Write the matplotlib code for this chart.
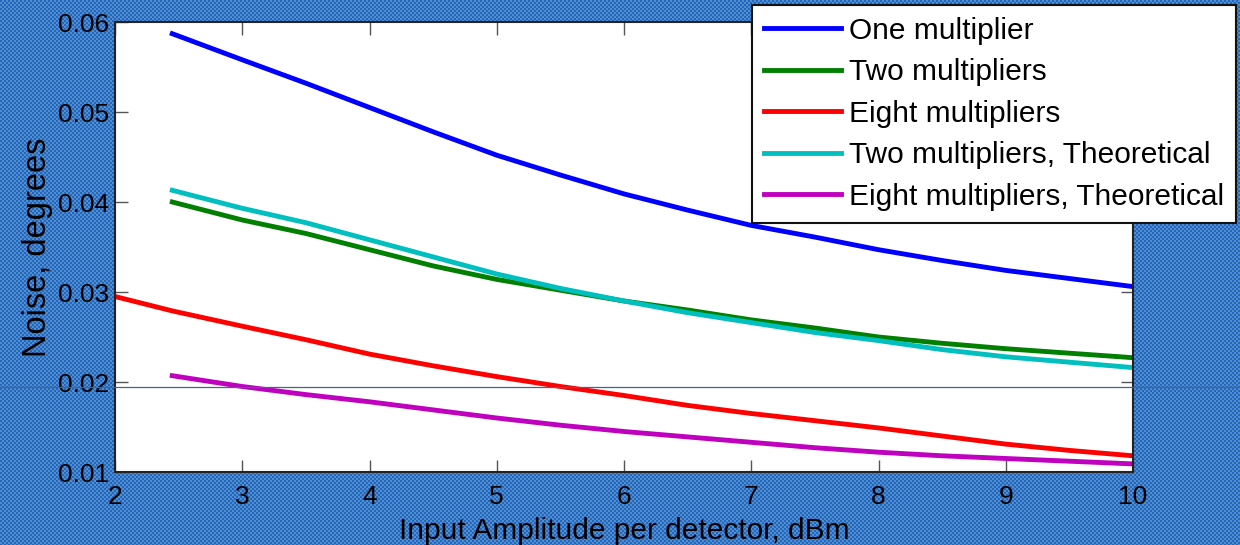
import numpy as np
import matplotlib
matplotlib.use("Agg")
import matplotlib.pyplot as plt
from matplotlib.lines import Line2D

plt.rcParams["font.family"] = ["Liberation Sans", "DejaVu Sans"]

# Werte
x_meas = [2.45, 3.0, 3.5, 4.0, 4.5, 5.0, 5.5, 6.0, 6.5, 7.0, 7.5, 8.0, 8.5, 9.0, 9.5, 10.0]
one_mult = [0.0587, 0.0558, 0.0532, 0.0505, 0.0478, 0.0452, 0.0430, 0.0409, 0.0391, 0.0374,
            0.0361, 0.0347, 0.0335, 0.0324, 0.0315, 0.0306]
two_mult = [0.0400, 0.0380, 0.0365, 0.0347, 0.0329, 0.0314, 0.0302, 0.0290, 0.0280, 0.0269,
            0.0260, 0.0250, 0.0243, 0.0237, 0.0232, 0.0227]
two_theo = [0.0413, 0.0393, 0.0377, 0.0358, 0.0339, 0.0320, 0.0304, 0.0290, 0.0277, 0.0266,
            0.0255, 0.0246, 0.0236, 0.0228, 0.0222, 0.0216]
x_eight = [2.0, 2.45, 3.0, 3.5, 4.0, 4.5, 5.0, 5.5, 6.0, 6.5, 7.0, 7.5, 8.0, 8.5, 9.0, 9.5, 10.0]
eight_mult = [0.0295, 0.0279, 0.0262, 0.0247, 0.0231, 0.0218, 0.0206, 0.0195, 0.0185, 0.0174,
              0.0165, 0.0157, 0.0149, 0.0140, 0.0131, 0.0124, 0.0118]
eight_theo = [0.0207, 0.0195, 0.0186, 0.0178, 0.0169, 0.0160, 0.0152, 0.0145, 0.0139, 0.0133,
              0.0127, 0.0122, 0.0118, 0.0115, 0.0112, 0.0109]

W, H = 1240, 545
fig = plt.figure(figsize=(W / 100, H / 100), dpi=100)

# Hintergrund mit Muster (Folien-Textur)
yy, xx = np.mgrid[0:H, 0:W]
c1 = np.array([38, 98, 200]) / 255
c2 = np.array([78, 146, 196]) / 255
mask = ((xx // 2 + yy // 2) % 2 == 0)[..., None]
bg = np.where(mask, c1, c2)
fig.figimage(bg, 0, 0, zorder=-10)

ax = fig.add_axes([115 / W, 1 - 472 / H, (1133 - 115) / W, (472 - 22) / H])
ax.set_facecolor("white")

ax.plot(x_meas, one_mult, color="#0000ff", lw=3.5, label="One multiplier")
ax.plot(x_meas, two_mult, color="#007f00", lw=3.5, label="Two multipliers")
ax.plot(x_eight, eight_mult, color="#ff0000", lw=3.5, label="Eight multipliers")
ax.plot(x_meas, two_theo, color="#00bfbf", lw=3.5, label="Two multipliers, Theoretical")
ax.plot(x_meas, eight_theo, color="#bf00bf", lw=3.5, label="Eight multipliers, Theoretical")

ax.set_xlim(2, 10)
ax.set_ylim(0.01, 0.06)
ax.set_xticks(range(2, 11))
ax.set_yticks([0.01, 0.02, 0.03, 0.04, 0.05, 0.06])
ax.set_yticklabels(["0.01", "0.02", "0.03", "0.04", "0.05", "0.06"])
ax.tick_params(direction="in", length=9, width=1, color="#555555", labelsize=19,
               top=True, right=True)
ax.tick_params(axis="x", pad=9)
ax.tick_params(axis="y", pad=4)
for s in ax.spines.values():
    s.set_linewidth(1.5)
    s.set_color("#222222")

ax.set_xlabel("Input Amplitude per detector, dBm", fontsize=21.5, labelpad=6)
ax.set_ylabel("Noise, degrees", fontsize=23.5, labelpad=4)

leg = fig.legend(loc="upper right", bbox_to_anchor=(1236 / W, 1 - 5 / H),
                 bbox_transform=fig.transFigure, fontsize=21.5, frameon=True,
                 fancybox=False, edgecolor="#111111", framealpha=1,
                 handlelength=2.6, handletextpad=0.25, labelspacing=0.45,
                 borderpad=0.4, borderaxespad=0)
leg.get_frame().set_linewidth(1.5)
leg.set_zorder(5)

# dünne Linie quer über die Folie
fig.add_artist(Line2D([0, 1], [1 - 387 / H, 1 - 387 / H], transform=fig.transFigure,
                      color="#3d6690", lw=0.9, zorder=4))

fig.savefig("out.png", dpi=100)
